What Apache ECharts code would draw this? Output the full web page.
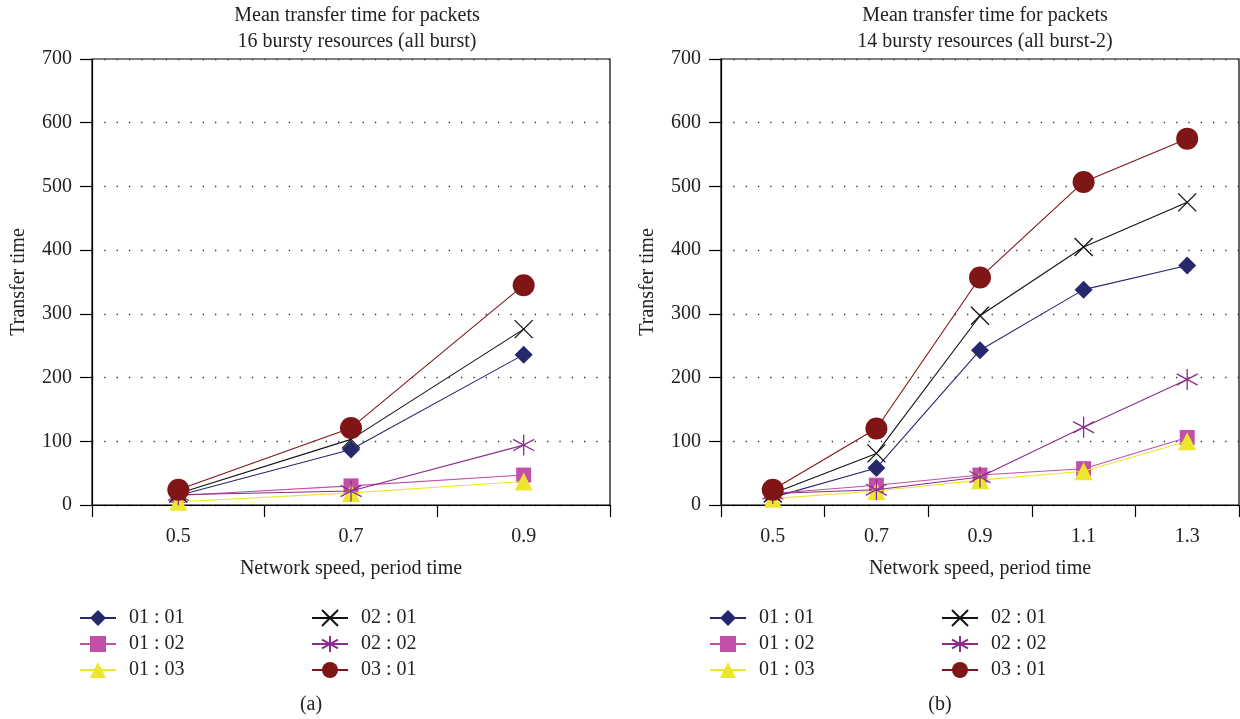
<!DOCTYPE html>
<html><head><meta charset="utf-8">
<script src="https://cdn.jsdelivr.net/npm/echarts@6/dist/echarts.min.js"></script>
<style>html,body{margin:0;padding:0;background:#fff}#c{width:1240px;height:719px}</style>
</head><body><div id="c"></div>
<script>
const catsA = ['0.5','0.7','0.9'];
const catsB = ['0.5','0.7','0.9','1.1','1.3'];
const yTicks = [0,100,200,300,400,500,600,700];
const names = ['01 : 01','01 : 02','01 : 03','02 : 01','02 : 02','03 : 01'];
// chart (a)
const a_0101 = [15, 87, 236];
const a_0102 = [15, 30, 47];
const a_0103 = [5, 19, 37];
const a_0201 = [18, 103, 276];
const a_0202 = [16, 22, 94];
const a_0301 = [24, 121, 345];
// chart (b)
const b_0101 = [12, 58, 243, 338, 376];
const b_0102 = [18, 31, 47, 57, 106];
const b_0103 = [10, 22, 39, 53, 100];
const b_0201 = [18, 81, 297, 405, 475];
const b_0202 = [18, 24, 44, 122, 197];
const b_0301 = [24, 120, 357, 507, 575];

const FONT = '"Liberation Serif","DejaVu Serif",serif';
const TXT = '#222';
const colors = ['#27276e','#c24fa8','#ece62e','#111111','#8b2e8b','#7f1515'];
const symbols = ['diamond','rect','triangle',
  'path://M0,0L10,10M10,0L0,10',
  'path://M5,0L5,10M0.8,2.3L9.2,7.7M9.2,2.3L0.8,7.7',
  'circle'];
const sizes = [18, 15, 18, 18, 21, 22];
const dataA = [a_0101,a_0102,a_0103,a_0201,a_0202,a_0301];
const dataB = [b_0101,b_0102,b_0103,b_0201,b_0202,b_0301];

function mkSeries(data, gi){
  return data.map((d,i)=>({
    name: names[i], type:'line', xAxisIndex: gi, yAxisIndex: gi,
    data: d, symbol: symbols[i], symbolSize: sizes[i], showSymbol:true,
    lineStyle:{color: colors[i], width: 1.1},
    itemStyle:{color: colors[i], borderColor: colors[i], borderWidth: (i===3||i===4)?1.3:0},
    z: 2 + i, animation:false
  }));
}
function mkX(cats, gi){
  return {type:'category', gridIndex: gi, data: cats, boundaryGap:true,
    name:'Network speed, period time', nameLocation:'middle', nameGap:54,
    nameTextStyle:{fontFamily:FONT, fontSize:20, color:TXT},
    axisLine:{lineStyle:{color:'#000', width:1.2}},
    axisTick:{show:true, alignWithLabel:false, length:12, inside:false, lineStyle:{color:'#000', width:1.2}},
    axisLabel:{fontFamily:FONT, fontSize:20, color:TXT, margin:22},
    splitLine:{show:false}};
}
function mkY(gi){
  return {type:'value', gridIndex: gi, min:yTicks[0], max:yTicks[yTicks.length-1], interval:100,
    name:'Transfer time', nameLocation:'middle', nameGap:63,
    nameTextStyle:{fontFamily:FONT, fontSize:20, color:TXT},
    axisLine:{show:true, lineStyle:{color:'#000', width:1.2}},
    axisTick:{show:true, length:12, lineStyle:{color:'#000', width:1.2}},
    axisLabel:{fontFamily:FONT, fontSize:20, color:TXT, margin:20},
    splitLine:{show:true, lineStyle:{color:'#333', width:1.3, type:[1.3, 11]}}};
}
function mkLegend(left, items){
  return {left: left, top: 603, orient:'vertical', itemGap: 6, itemWidth: 36, itemHeight: 20,
    data: items, textStyle:{fontFamily:FONT, fontSize:20, color:TXT, padding:[0,0,0,8]}, selectedMode:false};
}
const chart = echarts.init(document.getElementById('c'), null, {renderer:'canvas'});
chart.setOption({
  animation:false,
  backgroundColor:'#fff',
  title:[
    {text:'Mean transfer time for packets\n16 bursty resources (all burst)', left:352, top:-2, textAlign:'center',
     textStyle:{fontFamily:FONT, fontSize:20, fontWeight:'normal', color:TXT, lineHeight:26}},
    {text:'Mean transfer time for packets\n14 bursty resources (all burst-2)', left:980, top:-2, textAlign:'center',
     textStyle:{fontFamily:FONT, fontSize:20, fontWeight:'normal', color:TXT, lineHeight:26}},
    {text:'(a)', left:306, top:690, textAlign:'center', textStyle:{fontFamily:FONT, fontSize:20, fontWeight:'normal', color:TXT}},
    {text:'(b)', left:935, top:690, textAlign:'center', textStyle:{fontFamily:FONT, fontSize:20, fontWeight:'normal', color:TXT}}
  ],
  grid:[
    {left:92, top:59, width:518, height:446, show:true, borderColor:'#000', borderWidth:1.2, backgroundColor:'transparent'},
    {left:721, top:59, width:518, height:446, show:true, borderColor:'#000', borderWidth:1.2, backgroundColor:'transparent'}
  ],
  xAxis:[mkX(catsA,0), mkX(catsB,1)],
  yAxis:[mkY(0), mkY(1)],
  legend:[
    mkLegend(74, names.slice(0,3)), mkLegend(306, names.slice(3)),
    mkLegend(704, names.slice(0,3)), mkLegend(936, names.slice(3))
  ],
  series: mkSeries(dataA,0).concat(mkSeries(dataB,1))
});
</script></body></html>
